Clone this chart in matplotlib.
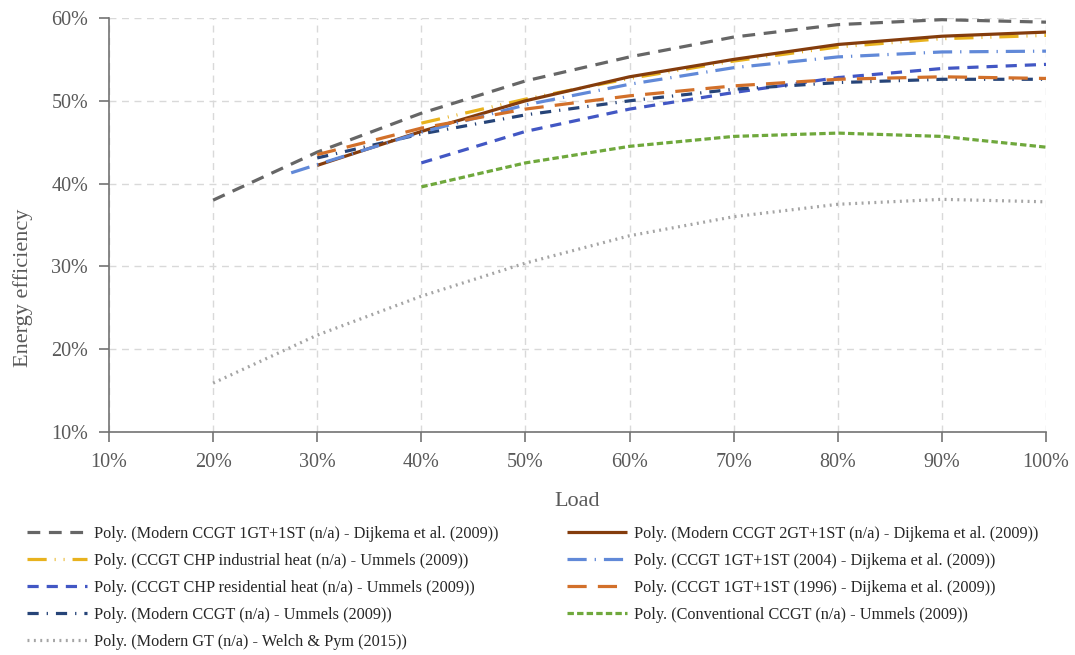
import matplotlib
matplotlib.use("Agg")
import matplotlib.pyplot as plt
from matplotlib.ticker import FuncFormatter, MultipleLocator

plt.rcParams['font.family'] = ['Liberation Serif', 'DejaVu Serif']

load_1gt = [20, 30, 40, 50, 60, 70, 80, 90, 100]
eff_1gt = [38.0, 43.8, 48.5, 52.4, 55.3, 57.7, 59.2, 59.8, 59.5]

load_2gt = [30, 40, 50, 60, 70, 80, 90, 100]
eff_2gt = [42.2, 46.3, 50.0, 52.9, 55.0, 56.8, 57.8, 58.3]

load_ind = [40, 50, 60, 70, 80, 90, 100]
eff_ind = [47.3, 50.2, 52.7, 54.8, 56.5, 57.5, 57.9]

load_2004 = [27.5, 30, 40, 50, 60, 70, 80, 90, 100]
eff_2004 = [41.3, 42.3, 46.2, 49.5, 52.0, 54.0, 55.3, 55.9, 56.0]

load_res = [40, 50, 60, 70, 80, 90, 100]
eff_res = [42.5, 46.3, 49.0, 51.0, 52.8, 53.9, 54.4]

load_1996 = [30, 40, 50, 60, 70, 80, 90, 100]
eff_1996 = [43.5, 46.7, 49.0, 50.6, 51.8, 52.6, 52.9, 52.7]

load_mod = [30, 40, 50, 60, 70, 80, 90, 100]
eff_mod = [43.1, 46.0, 48.3, 50.0, 51.4, 52.2, 52.6, 52.6]

load_conv = [40, 50, 60, 70, 80, 90, 100]
eff_conv = [39.6, 42.5, 44.5, 45.7, 46.1, 45.7, 44.4]

load_gt = [20, 30, 40, 50, 60, 70, 80, 90, 100]
eff_gt = [15.9, 21.7, 26.4, 30.4, 33.7, 36.0, 37.5, 38.1, 37.8]

# order gives the two legend columns (filled column by column)
series = [
    (load_1gt, eff_1gt, "Poly. (Modern CCGT 1GT+1ST (n/a) - Dijkema et al. (2009))", '#666666', (0, (4, 2.7))),
    (load_ind, eff_ind, "Poly. (CCGT CHP industrial heat (n/a) - Ummels (2009))", '#E8B21E', (0, (6, 2.5, 0.3, 2.5, 0.3, 2.5))),
    (load_res, eff_res, "Poly. (CCGT CHP residential heat (n/a) - Ummels (2009))", '#4257C4', (0, (3.5, 2.5))),
    (load_mod, eff_mod, "Poly. (Modern CCGT (n/a) - Ummels (2009))", '#264478', (0, (3.5, 2.5, 0.4, 2.5))),
    (load_gt, eff_gt, "Poly. (Modern GT (n/a) - Welch & Pym (2015))", '#A5A5A5', (0, (0.6, 1.4))),
    (load_2gt, eff_2gt, "Poly. (Modern CCGT 2GT+1ST (n/a) - Dijkema et al. (2009))", '#843C0C', '-'),
    (load_2004, eff_2004, "Poly. (CCGT 1GT+1ST (2004) - Dijkema et al. (2009))", '#6189D8', (0, (6, 2.5, 0.4, 2.5))),
    (load_1996, eff_1996, "Poly. (CCGT 1GT+1ST (1996) - Dijkema et al. (2009))", '#D2702A', (0, (6, 3.5))),
    (load_conv, eff_conv, "Poly. (Conventional CCGT (n/a) - Ummels (2009))", '#6FA83C', (0, (2, 1))),
]

fig = plt.figure(figsize=(10.75, 6.55), dpi=100)
ax = fig.add_axes([0.1014, 0.3405, 0.8716, 0.632])

for x, y, label, color, ls in series:
    ax.plot(x, y, color=color, linestyle=ls, linewidth=2.3, label=label,
            dash_capstyle='butt', solid_capstyle='butt')

ax.set_xlim(10, 100)
ax.set_ylim(10, 60)
ax.xaxis.set_major_locator(MultipleLocator(10))
ax.yaxis.set_major_locator(MultipleLocator(10))
pct = FuncFormatter(lambda v, p: '{:.0f}%'.format(v))
ax.xaxis.set_major_formatter(pct)
ax.yaxis.set_major_formatter(pct)

ax.grid(True, color='#D9D9D9', linestyle=(0, (5, 4)), linewidth=1.0)
ax.set_axisbelow(True)
for s in ['top', 'right']:
    ax.spines[s].set_visible(False)
for s in ['left', 'bottom']:
    ax.spines[s].set_color('#737373')
    ax.spines[s].set_linewidth(1.2)
ax.tick_params(axis='both', colors='#737373', labelcolor='#595959',
               labelsize=14.5, length=7, width=1.2, direction='out')
ax.tick_params(axis='y', pad=8)
ax.tick_params(axis='x', pad=8)

ax.set_xlabel('Load', fontsize=16, color='#595959')
ax.xaxis.set_label_coords(0.4996, -0.145)
ax.set_ylabel('Energy efficiency', fontsize=16, color='#595959')
ax.yaxis.set_label_coords(-0.081, 0.348)

leg = fig.legend(loc='upper left', bbox_to_anchor=(0.0115, 0.219), ncol=2,
                 frameon=False, fontsize=11.7, handlelength=3.7,
                 handletextpad=0.43, columnspacing=4.2, labelspacing=0.67)
for t in leg.get_texts():
    t.set_color('#262626')

fig.savefig('out.png', dpi=100)
